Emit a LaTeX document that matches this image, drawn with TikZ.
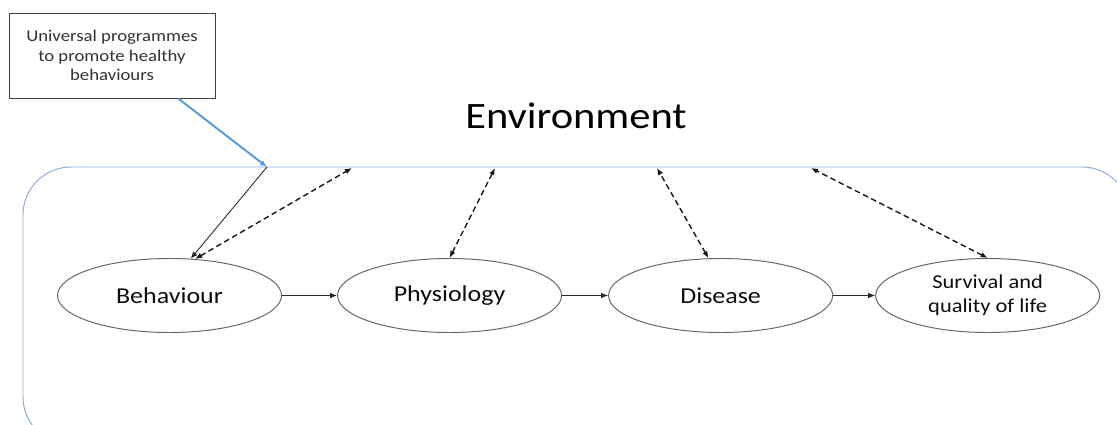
\documentclass[tikz,border=0pt]{standalone}
\usepackage{fontspec}
\setmainfont{Carlito}[FakeStretch=1.14]
\definecolor{envblue}{RGB}{143,170,220}
\definecolor{progblue}{RGB}{91,155,213}
\usetikzlibrary{shapes.geometric}
\usetikzlibrary{positioning}
\usetikzlibrary{arrows.meta}
\tikzset{
  stage/.style={ellipse, draw=black!60, line width=0.7pt, minimum width=5.6cm,
    minimum height=1.85cm, inner sep=0pt, text=black!95,
    font=\fontsize{16.2pt}{19pt}\selectfont},
  link/.style={->, black!85, line width=0.6pt},
  feedback/.style={<->, black!90, line width=1pt, dash pattern=on 4pt off 2.5pt},
}

\begin{document}
\begin{tikzpicture}[x=0.025cm, y=-0.025cm, >={Latex[length=5pt,width=4pt]}]
  \useasboundingbox (0,0) rectangle (1117,425);
  \clip (0,0) rectangle (1117,425);

  % environment
  \draw [envblue, line width=0.7pt, rounded corners=1.2cm] (23,167) rectangle (1130,445);
  \node [font=\fontsize{26.5pt}{30pt}\selectfont, text=black] (env) at (576,116) {Environment};

  % programme box
  \node [draw=black!75, line width=0.6pt, minimum width=5.15cm, minimum height=2.125cm,
    align=center, text=black!80, font=\fontsize{11.7pt}{13.9pt}\selectfont]
    (prog) at (112,55.5) {Universal programmes\\to promote healthy\\behaviours};

  % stages
  \node [stage] (beh) at (169.5,295.5) {Behaviour};
  \node [stage, right=1.375cm of beh] (phys) {Physiology};
  \node [stage, right=1.15cm of phys] (dis) {Disease};
  \node [stage, right=1.05cm of dis, font=\fontsize{14pt}{17pt}\selectfont, align=center]
    (surv) {Survival and\\quality of life};

  \draw [link] (beh) -- (phys);
  \draw [link] (phys) -- (dis);
  \draw [link] (dis) -- (surv);

  % points on the environment border
  \coordinate (hub) at (267,167);
  \coordinate (envbeh) at (352,168);
  \coordinate (envphys) at (495,168);
  \coordinate (envdis) at (657,168);
  \coordinate (envsurv) at (811,168);

  \draw [->, progblue, line width=1.4pt] (prog.-33) -- (hub);
  \draw [link] (hub) -- (beh.60);

  % two-way links with the environment
  \draw [feedback] (beh.55) -- (envbeh);
  \draw [feedback] (phys.north) -- (envphys);
  \draw [feedback] (dis.108) -- (envdis);
  \draw [feedback] (surv.north) -- (envsurv);
\end{tikzpicture}
\end{document}
